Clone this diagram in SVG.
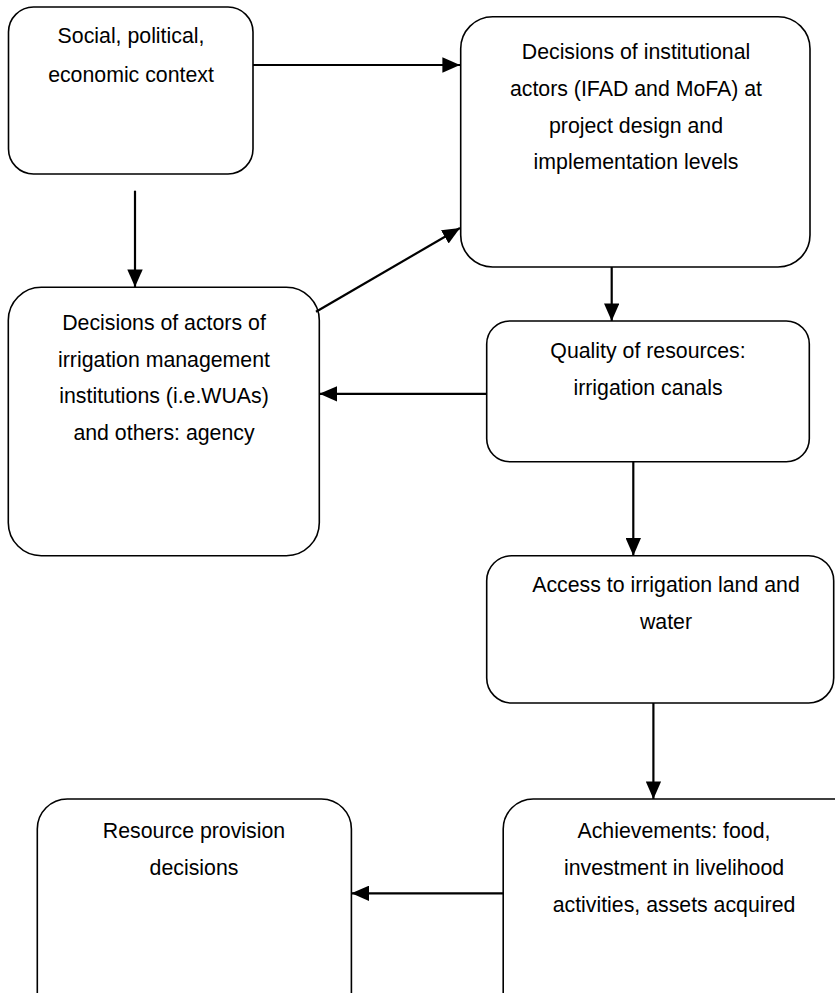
<svg xmlns="http://www.w3.org/2000/svg" width="835" height="993" viewBox="0 0 835 993">
<defs>
<style>
.box{fill:#fff;stroke:#000;stroke-width:1.6}
.t{font-family:"Liberation Sans",Arial,sans-serif;font-size:21.3px;fill:#000;text-anchor:middle}
.c{stroke:#000;stroke-width:2.2;fill:none;marker-end:url(#ah)}
</style>
<marker id="ah" markerWidth="8" markerHeight="7" refX="8" refY="3.5" orient="auto" markerUnits="strokeWidth">
<path d="M0,0 L8,3.5 L0,7 z" fill="#000"/>
</marker>
</defs>
<rect width="835" height="993" fill="#fff"/>
<g id="n1">
<rect class="box" x="8.5" y="7" width="244.5" height="167" rx="25"/>
<text class="t" x="131" y="43">Social, political,</text>
<text class="t" x="131" y="81.5">economic context</text>
</g>
<g id="n2">
<rect class="box" x="460.7" y="16.7" width="349.3" height="250.3" rx="32"/>
<text class="t" x="636" y="59">Decisions of institutional</text>
<text class="t" x="636" y="96">actors (IFAD and MoFA) at</text>
<text class="t" x="636" y="133">project design and</text>
<text class="t" x="636" y="169">implementation levels</text>
</g>
<g id="n3">
<rect class="box" x="8.3" y="287.3" width="311" height="268.4" rx="33"/>
<text class="t" x="164" y="330">Decisions of actors of</text>
<text class="t" x="164" y="366.5">irrigation management</text>
<text class="t" x="164" y="403">institutions (i.e.WUAs)</text>
<text class="t" x="164" y="439.5">and others: agency</text>
</g>
<g id="n4">
<rect class="box" x="486.7" y="321" width="322.6" height="140.7" rx="23"/>
<text class="t" x="648" y="358">Quality of resources:</text>
<text class="t" x="648" y="395">irrigation canals</text>
</g>
<g id="n5">
<rect class="box" x="486.7" y="555.7" width="347" height="147.3" rx="25"/>
<text class="t" x="666" y="592">Access to irrigation land and</text>
<text class="t" x="666" y="628.5">water</text>
</g>
<g id="n6">
<rect class="box" x="37.3" y="799" width="314.1" height="230" rx="30"/>
<text class="t" x="194" y="838">Resource provision</text>
<text class="t" x="194" y="875">decisions</text>
</g>
<g id="n7">
<rect class="box" x="503.2" y="799" width="360" height="230" rx="30"/>
<text class="t" x="674" y="838">Achievements: food,</text>
<text class="t" x="674" y="875">investment in livelihood</text>
<text class="t" x="674" y="912">activities, assets acquired</text>
</g>
<g id="connectors">
<line class="c" x1="253" y1="65" x2="460" y2="65"/>
<line class="c" x1="135" y1="190.7" x2="135" y2="287"/>
<line class="c" x1="316" y1="311.7" x2="460" y2="228"/>
<line class="c" x1="611.7" y1="267" x2="611.7" y2="321"/>
<line class="c" x1="486.7" y1="393.8" x2="319.5" y2="393.8"/>
<line class="c" x1="633.3" y1="461.7" x2="633.3" y2="555.7"/>
<line class="c" x1="653.4" y1="703" x2="653.4" y2="799"/>
<line class="c" x1="503.2" y1="893.3" x2="351.5" y2="893.3"/>
</g>
</svg>
